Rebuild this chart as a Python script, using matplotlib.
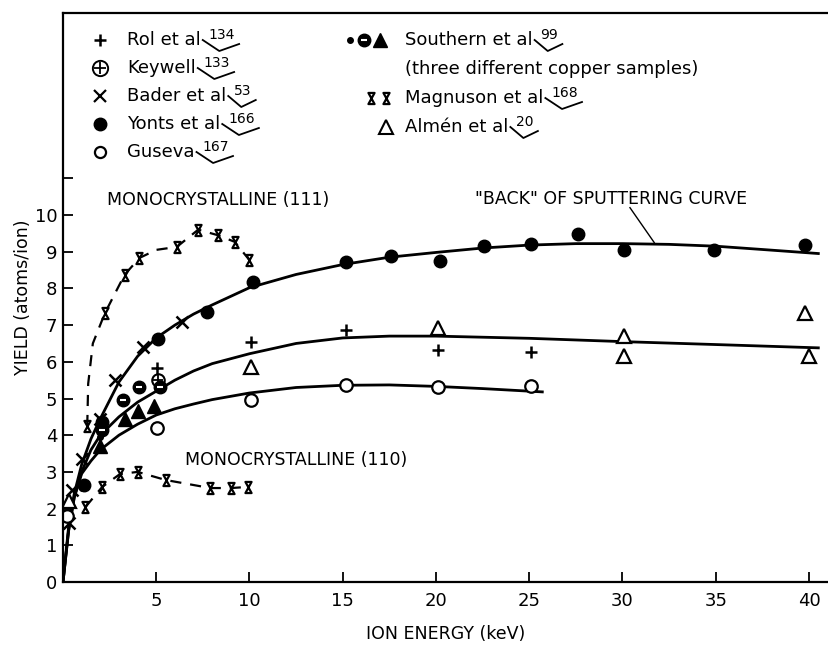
import matplotlib
matplotlib.use("Agg")
from matplotlib import pyplot as plt
from matplotlib.path import Path

plt.rcParams["font.family"] = ["DejaVu Sans"]

# --- measured points (ion energy keV, yield atoms/ion) ---
rol_x = [5.05, 10.1, 15.2, 20.1, 25.1]
rol_y = [5.83, 6.53, 6.87, 6.32, 6.27]

keywell_x = [5.1]
keywell_y = [5.5]

bader_x = [0.3, 0.5, 1.0, 2.0, 2.8, 4.3, 6.4]
bader_y = [1.6, 2.5, 3.35, 4.45, 5.5, 6.4, 7.08]

yonts_x = [1.15, 2.1, 5.1, 7.7, 10.2, 15.2, 17.6, 20.2, 22.6, 25.1, 27.6, 30.1, 34.9, 39.8]
yonts_y = [2.65, 4.35, 6.62, 7.36, 8.17, 8.72, 8.88, 8.75, 9.16, 9.2, 9.48, 9.05, 9.05, 9.18]

guseva_x = [0.2, 5.05, 10.1, 15.2, 20.1, 25.1]
guseva_y = [1.8, 4.2, 4.95, 5.37, 5.32, 5.35]

almen_x = [0.3, 10.1, 20.1, 30.1, 30.1, 39.8, 40.0]
almen_y = [2.2, 5.85, 6.92, 6.7, 6.15, 7.33, 6.15]

south_dot_x = [1.0, 2.0]
south_dot_y = [2.55, 3.95]
south_half_x = [2.1, 3.2, 4.1, 5.2]
south_half_y = [4.15, 4.95, 5.3, 5.3]
south_tri_x = [2.0, 3.3, 4.0, 4.9]
south_tri_y = [3.7, 4.45, 4.65, 4.8]

mag111_x = [1.3, 2.25, 3.3, 4.1, 6.1, 7.25, 8.3, 9.2, 10.0]
mag111_y = [4.25, 7.33, 8.37, 8.83, 9.13, 9.6, 9.45, 9.27, 8.77]
mag110_x = [1.2, 2.1, 3.05, 4.0, 5.5, 7.9, 9.0, 9.9]
mag110_y = [2.04, 2.59, 2.94, 3.0, 2.78, 2.56, 2.56, 2.59]

# --- hand drawn curves ---
top_curve_x = [0, 0.3, 0.6, 1.0, 1.5, 2.0, 3.0, 4.0, 5.0, 6.0, 7.0, 8.0, 10.0, 12.5, 15.0,
               17.5, 20.0, 22.5, 25.0, 27.5, 30.0, 32.5, 35.0, 37.5, 40.5]
top_curve_y = [0, 1.5, 2.4, 3.2, 3.9, 4.45, 5.45, 6.15, 6.65, 7.0, 7.3, 7.55, 8.02, 8.38, 8.65,
               8.85, 8.98, 9.1, 9.18, 9.22, 9.22, 9.2, 9.15, 9.06, 8.95]
mid_curve_x = [0, 0.3, 0.6, 1.0, 1.5, 2.0, 3.0, 4.0, 5.0, 6.0, 7.0, 8.0, 10.0, 12.5, 15.0,
               17.5, 20.0, 25.0, 30.0, 35.0, 40.5]
mid_curve_y = [0, 1.4, 2.3, 3.0, 3.6, 4.0, 4.5, 4.9, 5.2, 5.5, 5.75, 5.95, 6.22, 6.5, 6.65,
               6.7, 6.7, 6.64, 6.55, 6.47, 6.38]
low_curve_x = [0, 0.3, 0.6, 1.0, 1.5, 2.0, 3.0, 4.0, 5.0, 6.0, 7.0, 8.0, 10.0, 12.5, 15.0,
               17.5, 20.0, 22.5, 25.7]
low_curve_y = [0, 1.4, 2.3, 2.95, 3.3, 3.6, 4.0, 4.3, 4.55, 4.72, 4.85, 4.97, 5.15, 5.3, 5.36,
               5.37, 5.33, 5.27, 5.18]
dash111_x = [1.3, 1.35, 1.6, 2.25, 3.3, 4.1, 5.0, 6.1, 7.25, 8.3, 9.2, 10.0]
dash111_y = [4.25, 5.4, 6.5, 7.33, 8.37, 8.83, 9.05, 9.13, 9.6, 9.45, 9.27, 8.77]

x_ticks = [5, 10, 15, 20, 25, 30, 35, 40]
y_ticks = list(range(0, 12))
y_ticklabels = [str(v) for v in range(0, 11)] + [""]

legend_left = [("Rol et al", "134"), ("Keywell", "133"), ("Bader et al", "53"),
               ("Yonts et al", "166"), ("Guseva", "167")]
legend_right = [("Southern et al", "99"), ("(three different copper samples)", None),
                ("Magnuson et al", "168"), ("Almén et al", "20")]

hourglass = Path([(-0.55, 1), (0.55, 1), (-0.55, -1), (0.55, -1), (-0.55, 1)],
                 [Path.MOVETO, Path.LINETO, Path.LINETO, Path.LINETO, Path.CLOSEPOLY])

W, H = 829, 646
fig = plt.figure(figsize=(W / 100, H / 100), dpi=100)
ax = fig.add_axes([63 / W, 64 / H, (W - 63) / W, 569 / H])
ax.set_xlim(0, 766 / 18.65)
ax.set_ylim(0, 569 / 36.7)
ax.spines["right"].set_visible(False)
for s in ["left", "top", "bottom"]:
    ax.spines[s].set_linewidth(1.6)

lw = 2.0
ax.plot(top_curve_x, top_curve_y, color="black", lw=lw)
ax.plot(mid_curve_x, mid_curve_y, color="black", lw=lw)
ax.plot(low_curve_x, low_curve_y, color="black", lw=lw)
ax.plot(dash111_x, dash111_y, color="black", lw=1.6, ls=(0, (5, 4)))
ax.plot(mag110_x, mag110_y, color="black", lw=1.6, ls=(0, (5, 4)))

ms = 9
ax.plot(rol_x, rol_y, "+", color="black", ms=ms, mew=1.8)
ax.plot(keywell_x, keywell_y, "o", mfc="white", mec="black", ms=ms, mew=1.5)
ax.plot(keywell_x, keywell_y, "+", color="black", ms=ms - 2, mew=1.3)
ax.plot(bader_x, bader_y, "x", color="black", ms=ms, mew=1.8)
ax.plot(yonts_x, yonts_y, "o", color="black", ms=ms)
ax.plot(guseva_x, guseva_y, "o", mfc="white", mec="black", ms=ms, mew=1.6)
ax.plot(almen_x, almen_y, "^", mfc="white", mec="black", ms=ms + 1, mew=1.6)
ax.plot(south_dot_x, south_dot_y, "o", color="black", ms=4)
ax.plot(south_half_x, south_half_y, "o", color="black", ms=ms)
ax.plot(south_half_x, south_half_y, "_", color="white", ms=5, mew=1.5)
ax.plot(south_tri_x, south_tri_y, "^", color="black", ms=ms + 1)
ax.plot(mag111_x, mag111_y, ls="none", marker=hourglass, mfc="none", mec="black", ms=8, mew=1.6)
ax.plot(mag110_x, mag110_y, ls="none", marker=hourglass, mfc="none", mec="black", ms=8, mew=1.6)

ax.text(8.3, 10.4, "MONOCRYSTALLINE (111)", ha="center", va="center", fontsize=12.5)
ax.text(12.5, 3.32, "MONOCRYSTALLINE (110)", ha="center", va="center", fontsize=12.5)
ax.text(29.4, 10.44, '"BACK" OF SPUTTERING CURVE', ha="center", va="center", fontsize=12.5)
ax.plot([30.4, 31.7], [10.2, 9.25], color="black", lw=1.0)

ax.set_xticks(x_ticks)
ax.set_yticks(y_ticks)
ax.set_yticklabels(y_ticklabels)
ax.tick_params(direction="in", length=7, width=1.3, labelsize=13)
ax.tick_params(axis="x", pad=7)
ax.tick_params(axis="y", pad=4)
ax.set_xlabel("ION ENERGY (keV)", fontsize=12.5, labelpad=11)
ax.set_ylabel("YIELD (atoms/ion)", fontsize=12.5, labelpad=2)

# legend drawn by hand in pixel coordinates
lax = fig.add_axes([0, 0, 1, 1])
lax.set_xlim(0, W)
lax.set_ylim(H, 0)
lax.axis("off")

kw = dict(color="black", ls="none")
left_rows = [40, 68, 96, 124, 152]
right_rows = [40, 69, 98, 127]
lax.plot(100, left_rows[0], "+", ms=9, mew=1.8, **kw)
lax.plot(100, left_rows[1], "o", mfc="white", mec="black", ms=11, mew=1.4, ls="none")
lax.plot(100, left_rows[1], "+", ms=8, mew=1.3, **kw)
lax.plot(100, left_rows[2], "x", ms=8, mew=1.6, **kw)
lax.plot(100, left_rows[3], "o", ms=9, **kw)
lax.plot(100, left_rows[4], "o", mfc="white", mec="black", ms=8, mew=1.6, ls="none")
lax.plot(350, right_rows[0], "o", ms=4, **kw)
lax.plot(364, right_rows[0], "o", ms=9, **kw)
lax.plot(364, right_rows[0], "_", color="white", ms=5, mew=1.5, ls="none")
lax.plot(380, right_rows[0], "^", ms=10, **kw)
lax.plot([371, 386], [right_rows[2]] * 2, marker=hourglass, mfc="none", mec="black", ms=8, mew=1.6, ls="none")
lax.plot(386, right_rows[3], "^", mfc="white", mec="black", ms=10, mew=1.5, ls="none")

renderer = fig.canvas.get_renderer()


def legend_entry(x, y, label, ref):
    t = lax.text(x, y, label, ha="left", va="center", fontsize=13)
    if ref is None:
        return
    bb = t.get_window_extent(renderer)
    x1 = bb.x1 + 8
    top = H - bb.y1
    n = lax.text(x1, top - 3, ref, ha="left", va="top", fontsize=10)
    nb = n.get_window_extent(renderer)
    nx0, nx1 = nb.x0, nb.x1
    base = H - nb.y0
    lax.plot([nx0 - 6, nx0 + 0.4 * (nx1 - nx0), nx1 + 4],
             [base - 2, base + 9, base + 2], color="black", lw=1.3)


for (label, ref), y in zip(legend_left, left_rows):
    legend_entry(127, y, label, ref)
for (label, ref), y in zip(legend_right, right_rows):
    legend_entry(405, y, label, ref)

fig.savefig("out.png", dpi=100)
